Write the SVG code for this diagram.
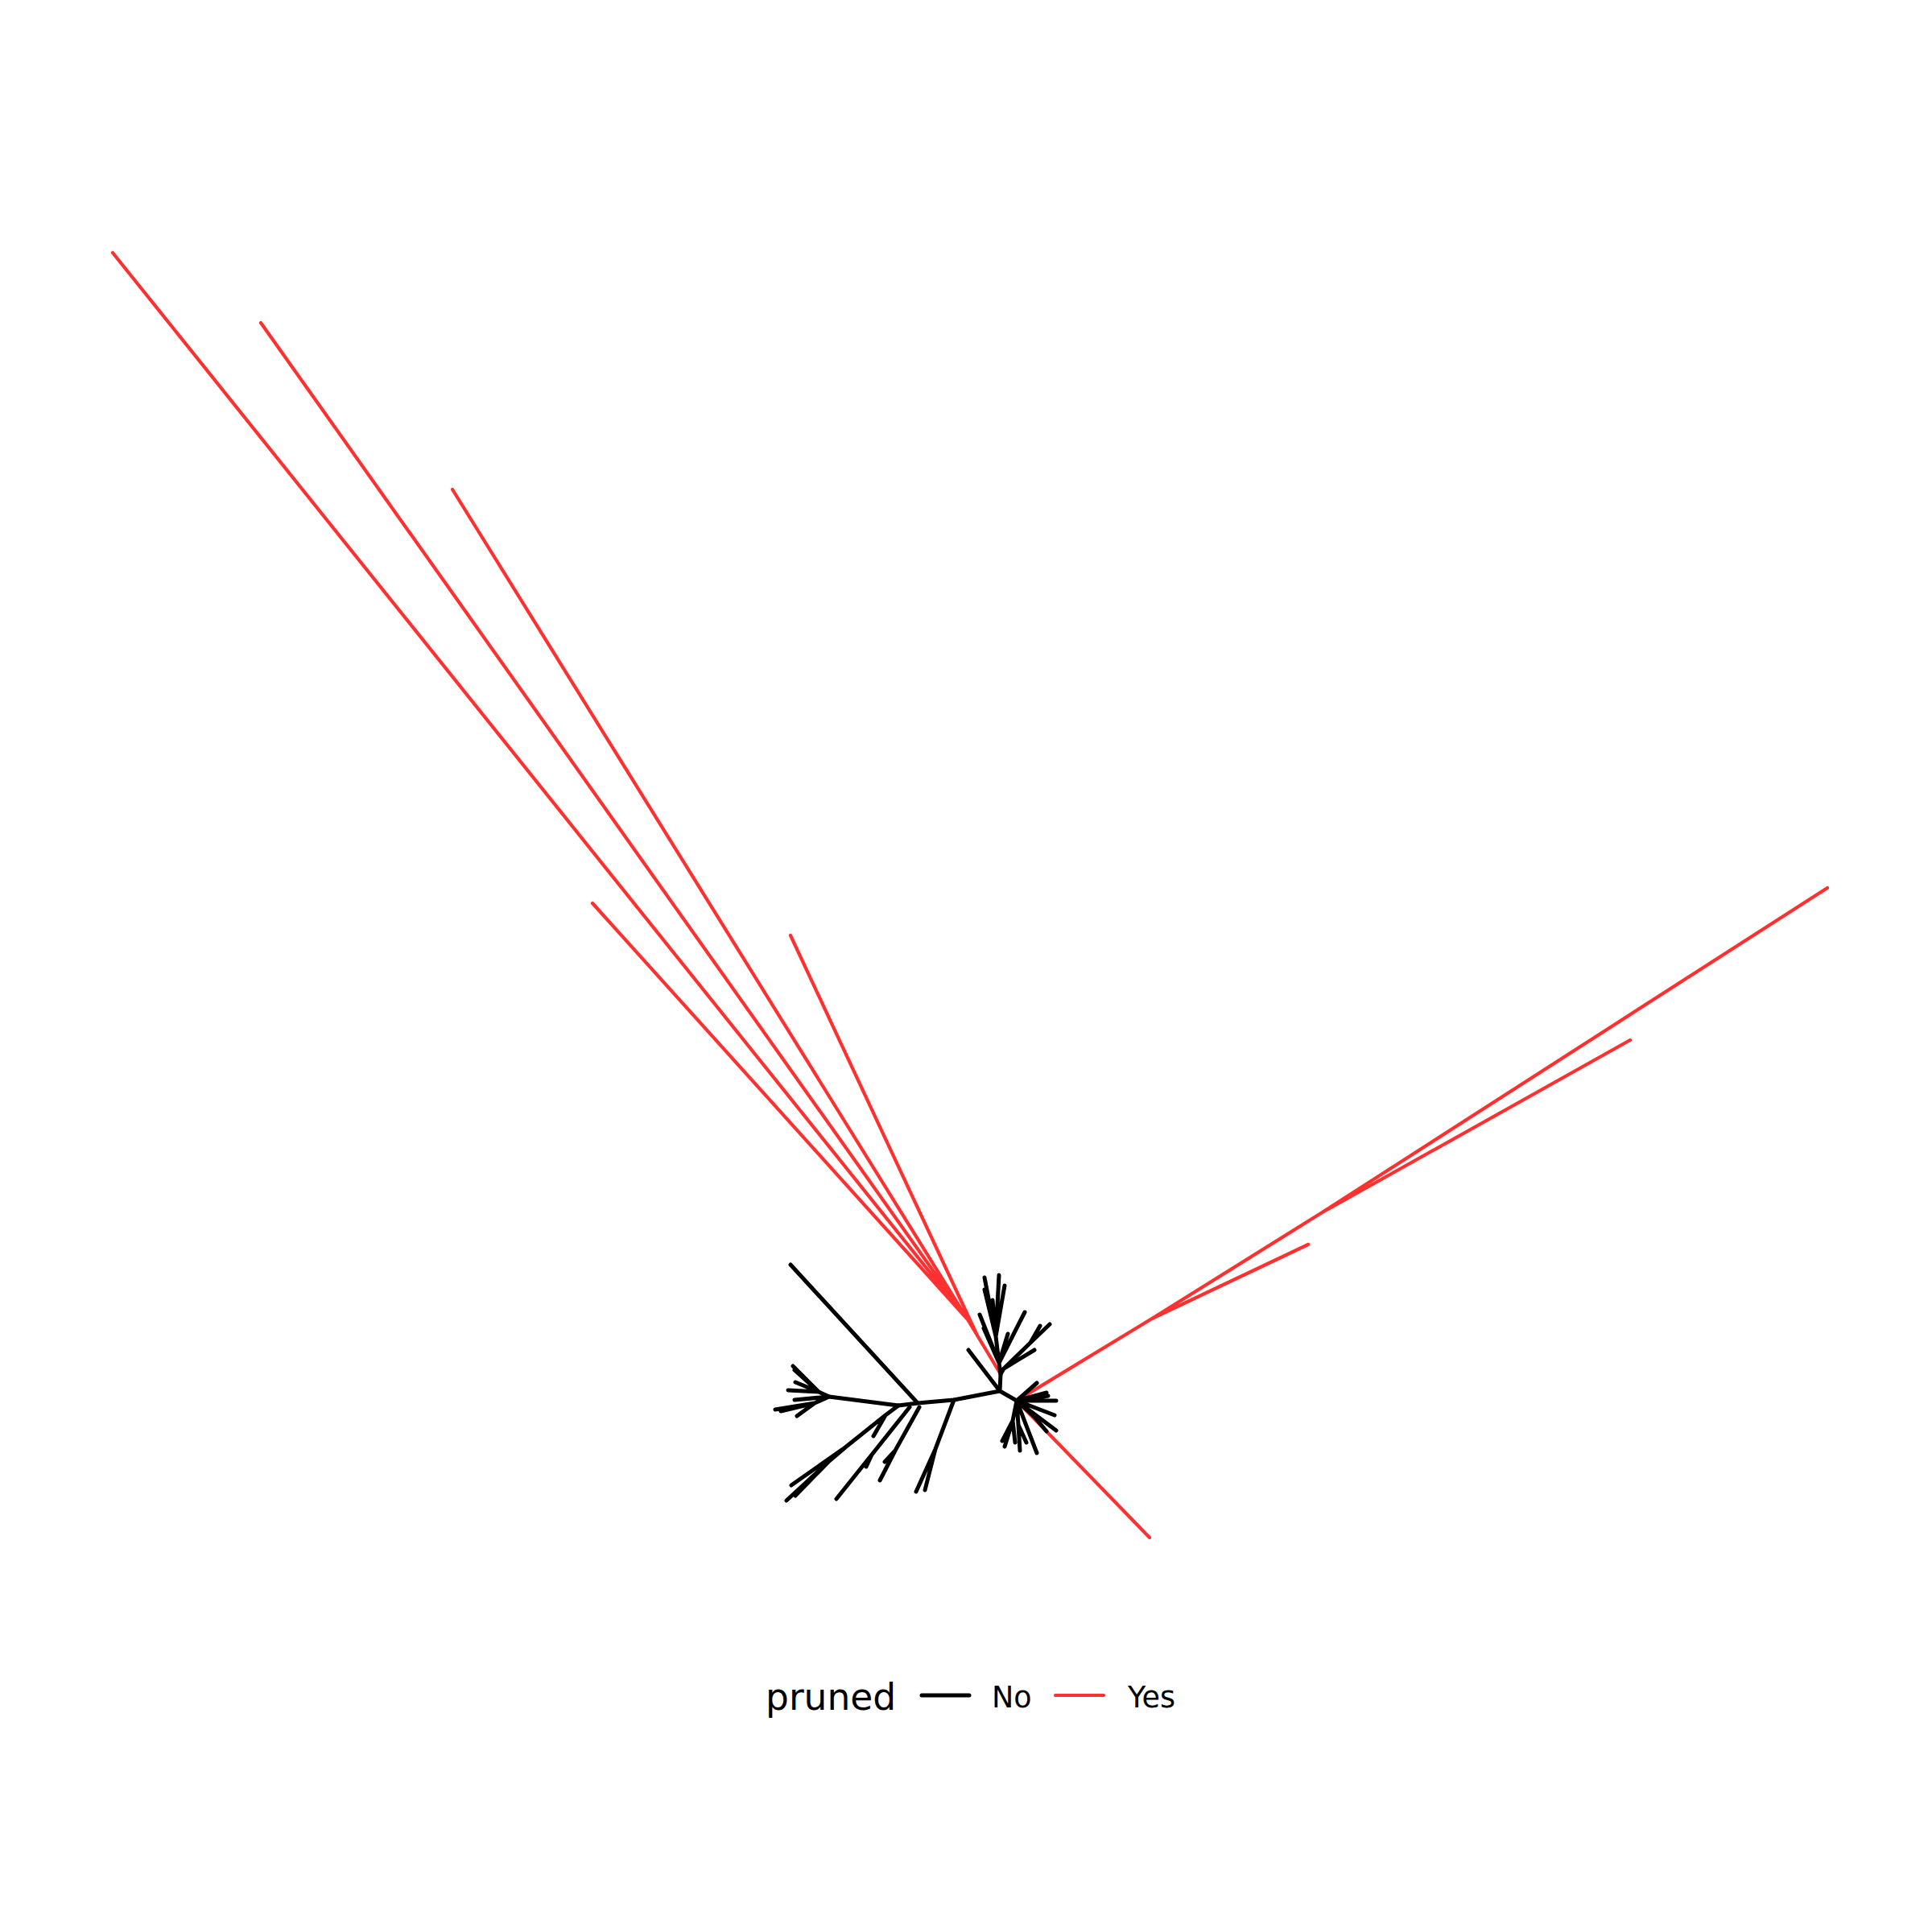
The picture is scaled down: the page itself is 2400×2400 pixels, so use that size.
<svg xmlns="http://www.w3.org/2000/svg" width="2400" height="2400" viewBox="0 0 2400 2400">
<style>
.e{fill:none;stroke-linecap:round;stroke-linejoin:round;stroke-width:5}
.no{stroke:#000000}
.yes{stroke:#FF3030;stroke-width:4.2}
.t{font-family:"DejaVu Sans","Liberation Sans",sans-serif;fill:#000000}
</style>
<rect width="2400" height="2400" fill="#FFFFFF"/>
<g id="connectors">
<g id="pruned-yes">
<path class="e yes" d="M1243,1707 L1202,1639 M1202,1639 L140,314 M1202,1639 L324,401 M1202,1639 L562,608 M1202,1639 L736,1122 M1214,1659 L982,1162"/>
<path class="e yes" d="M1263,1740 L1431,1638 L1641,1507 L2270,1103 M1641,1507 L2025,1292 M1431,1638 L1625,1546 M1263,1740 L1428,1910"/>
</g>
<g id="pruned-no">
<path class="e no" d="M982,1571 L1140,1743 M1030,1735 L1116,1746 L1140,1743 L1185,1739 L1242,1728 L1243,1707 M1242,1728 L1203,1677 M1242,1728 L1263,1740"/>
<path class="e no" d="M1030,1735 L1017,1729 M1017,1729 L985,1697 M1017,1729 L987,1702 M1017,1729 L988,1717 M1017,1729 L979,1727 M1030,1735 L987,1739 M1030,1735 L1012,1743 M1012,1743 L963,1751 M1012,1743 L970,1753 M1012,1743 L990,1759"/>
<path class="e no" d="M1116,1746 L1100,1758 L1085,1784 M1100,1758 L1050,1798 L983,1845 M1050,1798 L1030,1815 L977,1864 M1030,1815 L988,1858 M1130,1748 L1083,1807 L1039,1862 M1083,1807 L1076,1822 M1142,1748 L1112,1802 L1093,1839 M1112,1802 L1099,1816 M1185,1739 L1162,1800 L1138,1853 M1162,1800 L1149,1851"/>
<path class="e no" d="M1243,1707 L1241,1693 L1237,1660 L1223,1587 M1237,1660 L1241,1584 M1237,1660 L1223,1602 M1237,1660 L1233,1615 M1237,1660 L1248,1597 M1241,1693 L1217,1633 M1241,1693 L1222,1650 M1241,1693 L1252,1657 M1241,1693 L1273,1630 M1243,1707 L1247,1700 L1280,1668 L1304,1645 M1280,1668 L1292,1647 M1247,1700 L1285,1677"/>
<path class="e no" d="M1263,1740 L1288,1718 M1263,1740 L1300,1730 M1263,1740 L1302,1734 M1263,1740 L1312,1740 M1263,1740 L1310,1758 M1263,1740 L1312,1777 M1263,1740 L1285,1760 L1300,1778 M1263,1740 L1288,1805 M1263,1740 L1265,1770 L1267,1802 M1265,1770 L1275,1792 M1263,1740 L1258,1765 L1248,1797 M1258,1765 L1245,1790 M1258,1765 L1261,1792"/>
</g>
</g>
<g id="legend">
<text class="t" x="951" y="2124" font-size="45.5">pruned</text>
<line class="e no" x1="1145" y1="2106" x2="1204" y2="2106" stroke-width="4.5"/>
<text class="t" x="1232" y="2121" font-size="36.5">No</text>
<line class="e yes" x1="1311" y1="2106" x2="1371" y2="2106" stroke-width="4.5"/>
<text class="t" x="1401" y="2121" font-size="36.5">Yes</text>
</g>
</svg>
